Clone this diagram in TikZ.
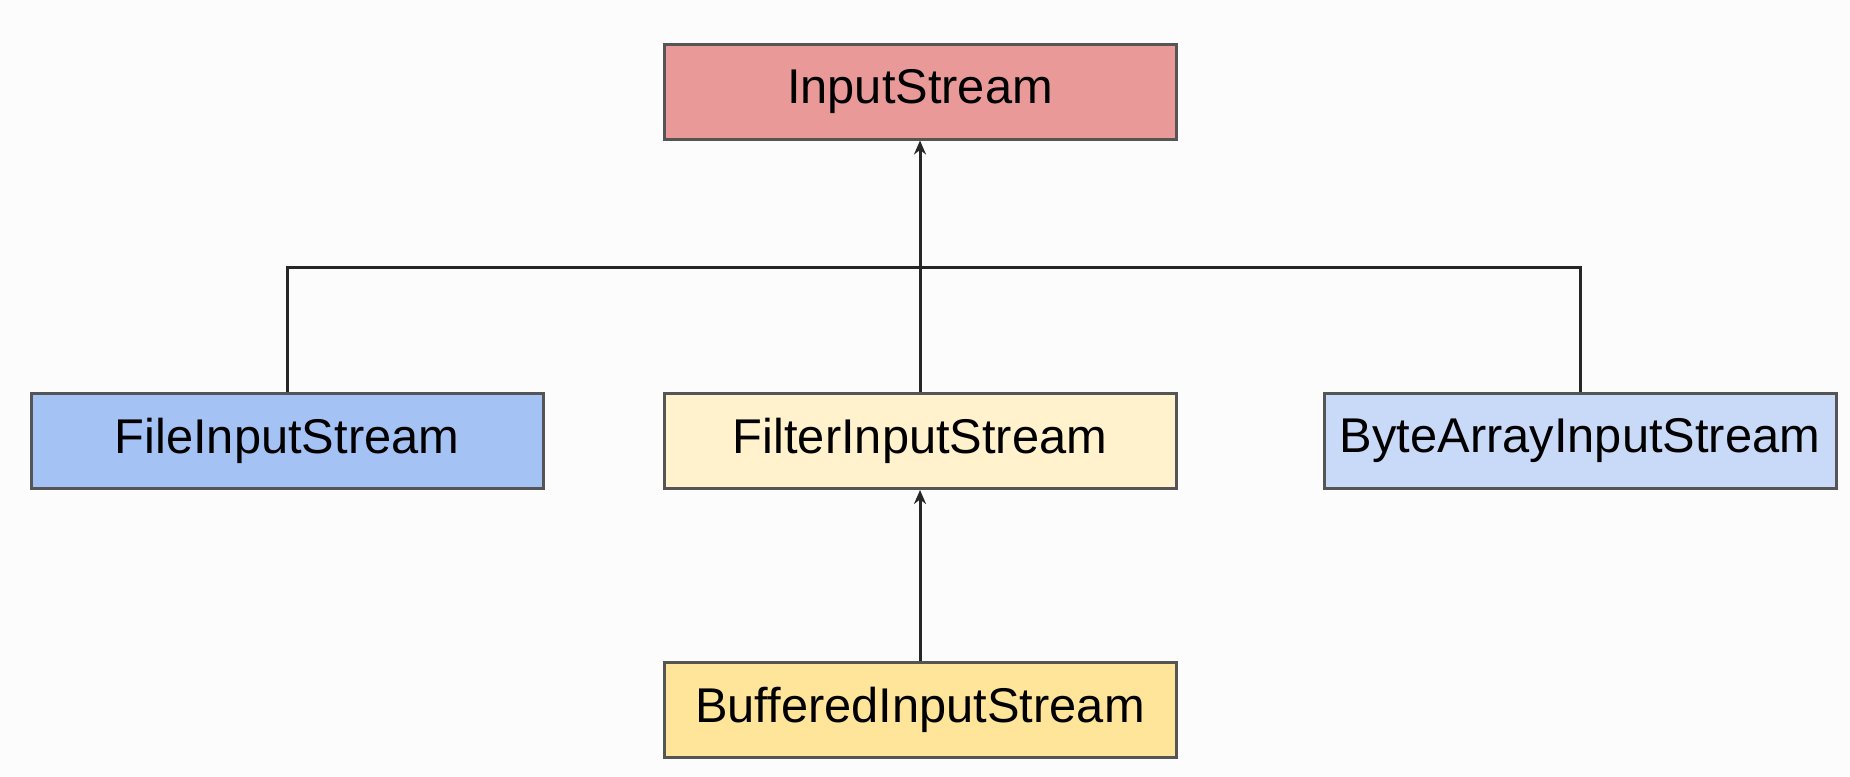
\documentclass[tikz,border=0pt]{standalone}
\usepackage{fontspec}
\setmainfont{Liberation Sans}
\usetikzlibrary{arrows.meta}
\definecolor{bgc}{HTML}{FCFCFC}
\definecolor{edgec}{HTML}{555555}
\definecolor{redf}{HTML}{EA9999}
\definecolor{bluef}{HTML}{A4C2F4}
\definecolor{lbluef}{HTML}{C9DAF8}
\definecolor{lyelf}{HTML}{FFF2CC}
\definecolor{yelf}{HTML}{FFE599}
\tikzset{
  cls/.style={draw=edgec, line width=1.5pt, rectangle, minimum height=47.5pt,
    minimum width=256pt, inner sep=0pt, font=\fontsize{24.4}{29}\selectfont, text=black},
  conn/.style={draw=black!85, line width=1.5pt},
  arr/.style={conn, -{Stealth[length=7pt,width=6pt]}}
}
\begin{document}
\begin{tikzpicture}[x=0.5pt,y=-0.5pt]
\fill[bgc] (0,0) rectangle (1850,776);
\useasboundingbox (0,0) rectangle (1850,776);
\node[cls, fill=redf] (is) at (920,91.5) {InputStream};
\node[cls, fill=bluef] (fis) at (287,441) {FileInputStream};
\node[cls, fill=lyelf] (filt) at (920,441) {FilterInputStream};
\node[cls, fill=lbluef] (bais) at (1580,441) {ByteArrayInputStream};
\node[cls, fill=yelf] (bis) at (920,710) {BufferedInputStream};
\coordinate (jl) at (287,267);
\coordinate (jr) at (1580,267);
\draw[conn] (fis.north) -- (jl) -- (jr) -- (bais.north);
\draw[arr] (filt.north) -- (is.south);
\draw[arr] (bis.north) -- (filt.south);
\end{tikzpicture}
\end{document}
